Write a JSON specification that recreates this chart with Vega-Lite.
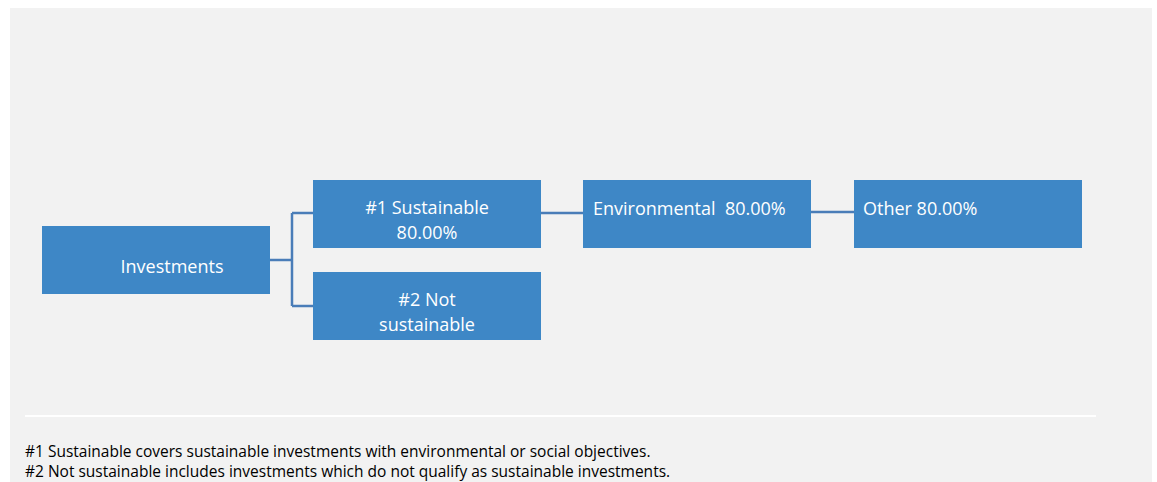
{
  "$schema": "https://vega.github.io/schema/vega-lite/v6.json",
  "width": 1157,
  "height": 482,
  "padding": 0,
  "autosize": {"type": "none"},
  "background": "#ffffff",
  "config": {"view": {"stroke": null}},
  "datasets": {
    "panel": [{"x": 10, "x2": 1152, "y": 8, "y2": 482}],
    "boxes": [
      {"node": "Investments", "x": 42, "x2": 270, "y": 226, "y2": 294},
      {"node": "#1 Sustainable", "x": 313, "x2": 541, "y": 180, "y2": 248},
      {"node": "#2 Not sustainable", "x": 313, "x2": 541, "y": 272, "y2": 340},
      {"node": "Environmental", "x": 583, "x2": 811, "y": 180, "y2": 248},
      {"node": "Other", "x": 854, "x2": 1082, "y": 180, "y2": 248}
    ],
    "links": [
      {"x": 270, "x2": 292, "y": 260, "y2": 260},
      {"x": 292, "x2": 292, "y": 213, "y2": 306},
      {"x": 292, "x2": 313, "y": 213, "y2": 213},
      {"x": 292, "x2": 313, "y": 306, "y2": 306},
      {"x": 541, "x2": 583, "y": 213, "y2": 213},
      {"x": 811, "x2": 854, "y": 212, "y2": 212}
    ],
    "separator": [{"x": 25, "x2": 1096, "y": 416, "y2": 416}],
    "centerLabels": [
      {"label": "Investments", "x": 172, "y": 268},
      {"label": "#1 Sustainable", "x": 427, "y": 209},
      {"label": "80.00%", "x": 427, "y": 234},
      {"label": "#2 Not", "x": 427, "y": 301},
      {"label": "sustainable", "x": 427, "y": 326}
    ],
    "leftLabels": [
      {"label": "Environmental\u00a0 80.00%", "x": 593, "y": 210},
      {"label": "Other 80.00%", "x": 863, "y": 210}
    ],
    "notes": [
      {"label": "#1 Sustainable covers sustainable investments with environmental or social objectives.", "x": 25, "y": 457},
      {"label": "#2 Not sustainable includes investments which do not qualify as sustainable investments.", "x": 25, "y": 477}
    ]
  },
  "layer": [
    {
      "data": {"name": "panel"},
      "mark": {"type": "rect", "color": "#f2f2f2"},
      "encoding": {
        "x": {"field": "x", "type": "quantitative", "scale": {"domain": [0, 1157], "nice": false, "zero": false}, "axis": null},
        "x2": {"field": "x2"},
        "y": {"field": "y", "type": "quantitative", "scale": {"domain": [0, 482], "nice": false, "zero": false, "reverse": true}, "axis": null},
        "y2": {"field": "y2"}
      }
    },
    {
      "data": {"name": "separator"},
      "mark": {"type": "rule", "color": "#ffffff", "strokeWidth": 2},
      "encoding": {
        "x": {"field": "x", "type": "quantitative"},
        "x2": {"field": "x2"},
        "y": {"field": "y", "type": "quantitative"},
        "y2": {"field": "y2"}
      }
    },
    {
      "data": {"name": "links"},
      "mark": {"type": "rule", "color": "#4a7db8", "strokeWidth": 2.5},
      "encoding": {
        "x": {"field": "x", "type": "quantitative"},
        "x2": {"field": "x2"},
        "y": {"field": "y", "type": "quantitative"},
        "y2": {"field": "y2"}
      }
    },
    {
      "data": {"name": "boxes"},
      "mark": {"type": "rect", "color": "#3e87c6"},
      "encoding": {
        "x": {"field": "x", "type": "quantitative"},
        "x2": {"field": "x2"},
        "y": {"field": "y", "type": "quantitative"},
        "y2": {"field": "y2"}
      }
    },
    {
      "data": {"name": "centerLabels"},
      "mark": {"type": "text", "color": "#ffffff", "font": "Open Sans", "fontSize": 18, "align": "center", "baseline": "middle"},
      "encoding": {
        "x": {"field": "x", "type": "quantitative"},
        "y": {"field": "y", "type": "quantitative"},
        "text": {"field": "label"}
      }
    },
    {
      "data": {"name": "leftLabels"},
      "mark": {"type": "text", "color": "#ffffff", "font": "Open Sans", "fontSize": 18, "align": "left", "baseline": "middle"},
      "encoding": {
        "x": {"field": "x", "type": "quantitative"},
        "y": {"field": "y", "type": "quantitative"},
        "text": {"field": "label"}
      }
    },
    {
      "data": {"name": "notes"},
      "mark": {"type": "text", "color": "#000000", "font": "Open Sans", "fontSize": 15.5, "align": "left", "baseline": "alphabetic"},
      "encoding": {
        "x": {"field": "x", "type": "quantitative"},
        "y": {"field": "y", "type": "quantitative"},
        "text": {"field": "label"}
      }
    }
  ]
}
